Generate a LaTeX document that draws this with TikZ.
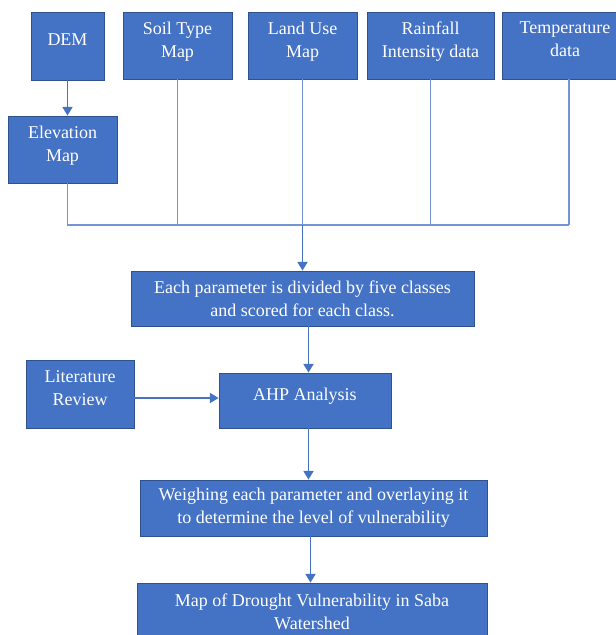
\documentclass[tikz,border=0pt]{standalone}
\usepackage{fontspec}
\setmainfont{Liberation Serif}
\usetikzlibrary{arrows.meta}
\definecolor{boxblue}{HTML}{4472C4}
\definecolor{boxedge}{HTML}{2F528F}
\definecolor{linkblue}{HTML}{4472C4}

\begin{document}
\begin{tikzpicture}[
  x=0.75pt,y=-0.75pt,
  box/.style={draw=boxedge,line width=.6pt,fill=boxblue,text=white,
    align=center,inner sep=0pt,font=\fontsize{13.5}{17.25}\selectfont},
  size/.style 2 args={minimum width=#1*0.75pt,minimum height=#2*0.75pt},
  lift/.style={text depth=9.3pt},
  feed/.style={draw=linkblue!75,line width=.9pt},
  flow/.style={draw=linkblue,line width=1.3pt,
    -{Triangle[width=7.5pt,length=6.5pt]}}
]
  \useasboundingbox (0,0) rectangle (616,635);
  \clip (0,0) rectangle (616,635);

  % data layers
  \node[box,size={73}{68},lift] (dem) at (67.5,46) {DEM};
  \node[box,size={109}{67},lift] (soil) at (177.5,45.5) {Soil Type\\Map};
  \node[box,size={109}{67},lift] (land) at (302.5,45.5) {Land Use\\Map};
  \node[box,size={127}{67},lift] (rain) at (430.5,45.5) {Rainfall\\Intensity data};
  \node[box,size={126}{67},lift] (temp) at (565,45.5) {Temperature\\data};
  \node[box,size={109}{67},lift] (elev) at (62.5,149.5) {Elevation\\Map};

  % processing steps
  \node[box,size={343}{55}] (param) at (302.5,298.5)
    {Each parameter is divided by five classes\\and scored for each class.};
  \node[box,size={108}{68},lift] (lit) at (80,394) {Literature\\Review};
  \node[box,size={172}{55},lift] (ahp) at (305,400.5) {AHP Analysis};
  \node[box,size={347}{56}] (weigh) at (313.5,508)
    {Weighing each parameter and overlaying it\\to determine the level of vulnerability};
  \node[box,size={350}{57}] (map) at (312,611.5)
    {Map of Drought Vulnerability in Saba\\Watershed};

  % collecting line
  \coordinate (bus) at (0,225);
  \coordinate (spine) at (308.5,0);
  \coordinate (tempdrop) at (569,0);
  \draw[feed] (dem |- elev.south) -- (dem |- bus) -- (tempdrop |- bus);
  \foreach \src in {soil,land,rain}
    \draw[feed] (\src.south) -- (\src |- bus);
  \draw[feed] (tempdrop |- temp.south) -- (tempdrop |- bus);

  \draw[flow] (dem.south) -- (dem.south |- elev.north);
  \draw[flow] (land |- bus) -- (param.north);
  \draw[flow] (spine |- param.south) -- (spine |- ahp.north);
  \draw[flow] ([yshift=-3pt]lit.east) -- ([yshift=-3pt]lit.east -| ahp.west);
  \draw[flow] (spine |- ahp.south) -- (spine |- weigh.north);
  \draw[flow] ([xshift=1.5pt]spine |- weigh.south) -- ([xshift=1.5pt]spine |- map.north);
\end{tikzpicture}
\end{document}
